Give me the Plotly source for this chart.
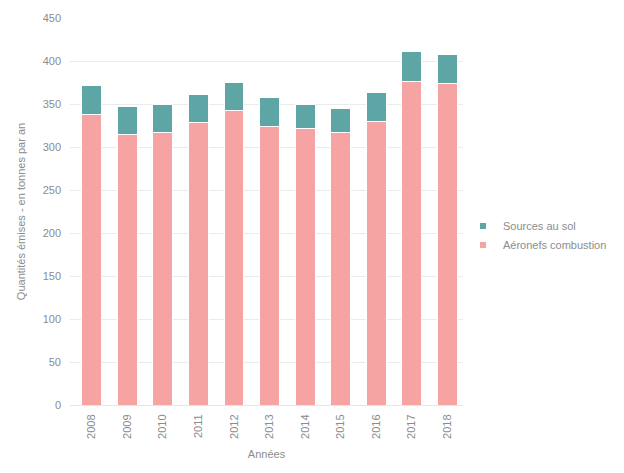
import plotly.graph_objects as go

annees = ["2008", "2009", "2010", "2011", "2012", "2013", "2014", "2015", "2016", "2017", "2018"]
aeronefs_combustion = [338, 315, 317, 329, 342, 324, 321, 317, 330, 376, 374]
sources_au_sol = [33, 32, 33, 32, 33, 33, 29, 28, 33, 35, 34]

col_aeronefs = "#f5a3a3"
col_sol = "#5ea6a6"

fig = go.Figure()
fig.add_trace(go.Bar(
    x=annees, y=aeronefs_combustion, name="Aéronefs combustion",
    marker=dict(color=col_aeronefs, line=dict(color="white", width=1)),
    showlegend=False,
))
fig.add_trace(go.Bar(
    x=annees, y=sources_au_sol, name="Sources au sol",
    marker=dict(color=col_sol, line=dict(color="white", width=1)),
    showlegend=False,
))
# legend entries with small square markers
fig.add_trace(go.Scatter(
    x=[None], y=[None], mode="markers", name="Sources au sol",
    marker=dict(symbol="square", size=6, color=col_sol),
))
fig.add_trace(go.Scatter(
    x=[None], y=[None], mode="markers", name="Aéronefs combustion",
    marker=dict(symbol="square", size=6, color=col_aeronefs),
))

fig.update_layout(
    barmode="stack",
    bargap=0.44,
    width=624, height=473,
    margin=dict(l=70, r=156, t=12, b=68),
    paper_bgcolor="white", plot_bgcolor="white",
    font=dict(family="Liberation Sans, Arial, sans-serif", size=11, color="#8c8c8c"),
    showlegend=True,
    legend=dict(
        x=1.0, y=0.4377, xanchor="left", yanchor="middle",
        traceorder="normal",
        font=dict(size=11, color="#8c8c8c"),
        itemwidth=30,
        tracegroupgap=0,
        bgcolor="rgba(0,0,0,0)",
    ),
    xaxis=dict(
        type="category",
        range=[-0.61, 10.44],
        tickangle=-90,
        showgrid=False,
        showline=True, linecolor="#e6e6e6", linewidth=1,
        ticks="",
        ticklabelstandoff=4,
        title=dict(text="Années", font=dict(size=11, color="#8c8c8c"), standoff=12),
    ),
    yaxis=dict(
        range=[0, 450],
        dtick=50,
        showgrid=True, gridcolor="#ebebeb", gridwidth=1,
        zeroline=False,
        ticks="",
        ticklabelstandoff=8,
        title=dict(text="Quantités émises - en tonnes par an", font=dict(size=11, color="#8c8c8c"), standoff=14),
    ),
)

fig.write_html("out.html")
